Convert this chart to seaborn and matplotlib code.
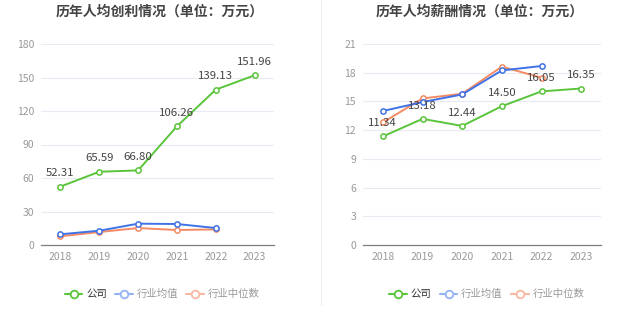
import matplotlib

matplotlib.use("Agg")
import matplotlib.pyplot as plt
import pandas as pd
import seaborn as sns
from matplotlib.lines import Line2D

YEARS = ["2018", "2019", "2020", "2021", "2022", "2023"]

# 人均创利 (万元)
PROFIT_COMPANY = [52.31, 65.59, 66.80, 106.26, 139.13, 151.96]
PROFIT_IND_AVG = [9.6, 12.8, 19.1, 18.8, 15.2]
PROFIT_IND_MED = [7.8, 11.6, 15.2, 13.4, 14.0]

# 人均薪酬 (万元)
SALARY_COMPANY = [11.34, 13.18, 12.44, 14.50, 16.05, 16.35]
SALARY_IND_AVG = [14.0, 14.93, 15.73, 18.24, 18.7]
SALARY_IND_MED = [12.8, 15.31, 15.8, 18.63, 17.48]

SERIES_NAMES = ["公司", "行业均值", "行业中位数"]
COLORS = ["#5ac43a", "#3f72e6", "#f58a63"]
LEGEND_COLORS = ["#5ac43a", "#94b3f5", "#f9b8a2"]
LEGEND_TEXT = ["#333333", "#999999", "#999999"]

sns.set_theme(style="white")
plt.rcParams["font.family"] = ["Noto Sans CJK SC", "DejaVu Sans"]


def long_frame(company, avg, med):
    rows = []
    for name, vals in zip(SERIES_NAMES, [company, avg, med]):
        for i, v in enumerate(vals):
            rows.append({"series": name, "x": i, "value": v})
    return pd.DataFrame(rows)


def draw_panel(ax, df, company, ymax, step, title, title_x):
    for name, color in zip(SERIES_NAMES[::-1], COLORS[::-1]):
        sub = df[df["series"] == name]
        sns.lineplot(
            data=sub, x="x", y="value", ax=ax, color=color, lw=1.4,
            marker="o", markersize=3.8, markerfacecolor="white",
            markeredgecolor=color, markeredgewidth=1.1, legend=False,
        )
    for i, v in enumerate(company):
        ax.annotate(f"{v:.2f}", (i, v), xytext=(0, 6), textcoords="offset points",
                    ha="center", va="bottom", fontsize=8.2, color="#444444")
    ax.set_xlim(-0.5, len(YEARS) - 0.5)
    ax.set_ylim(0, ymax)
    ax.set_yticks(range(0, ymax + 1, step))
    ax.set_xticks(range(len(YEARS)))
    ax.set_xticklabels(YEARS)
    ax.set_xlabel("")
    ax.set_ylabel("")
    ax.grid(axis="y", color="#e8ebf3", lw=0.8)
    ax.set_axisbelow(True)
    for side in ["top", "right", "left"]:
        ax.spines[side].set_visible(False)
    ax.spines["bottom"].set_color("#7f7f7f")
    ax.spines["bottom"].set_linewidth(0.9)
    ax.tick_params(axis="both", length=0, labelsize=7.5, colors="#999999", pad=5)
    ax.figure.text(title_x, 0.965, title, ha="center", va="center",
                   fontsize=10, fontweight="bold", color="#444444")

    handles = [
        Line2D([0], [0], color=c, lw=1.5, marker="o", markersize=5.5,
               markerfacecolor="white", markeredgecolor=c, markeredgewidth=1.3)
        for c in LEGEND_COLORS
    ]
    leg = ax.legend(handles, SERIES_NAMES, loc="center", bbox_to_anchor=(0.52, -0.245),
                    ncol=3, frameon=False, fontsize=7.5, handlelength=1.7,
                    handletextpad=0.35, columnspacing=0.8)
    for t, c in zip(leg.get_texts(), LEGEND_TEXT):
        t.set_color(c)


fig = plt.figure(figsize=(6.37, 3.27), dpi=100)
fig.patch.set_facecolor("white")
ax1 = fig.add_axes([41 / 637, 82 / 327, 233 / 637, 201 / 327])
ax2 = fig.add_axes([363 / 637, 82 / 327, 238 / 637, 201 / 327])

draw_panel(ax1, long_frame(PROFIT_COMPANY, PROFIT_IND_AVG, PROFIT_IND_MED),
           PROFIT_COMPANY, 180, 30, "历年人均创利情况（单位：万元）", 160 / 637)
draw_panel(ax2, long_frame(SALARY_COMPANY, SALARY_IND_AVG, SALARY_IND_MED),
           SALARY_COMPANY, 21, 3, "历年人均薪酬情况（单位：万元）", 480 / 637)

fig.add_artist(Line2D([320.5 / 637, 320.5 / 637], [22 / 327, 1.0],
                      color="#eeeeee", lw=0.8))

fig.savefig("out.png", dpi=100)
